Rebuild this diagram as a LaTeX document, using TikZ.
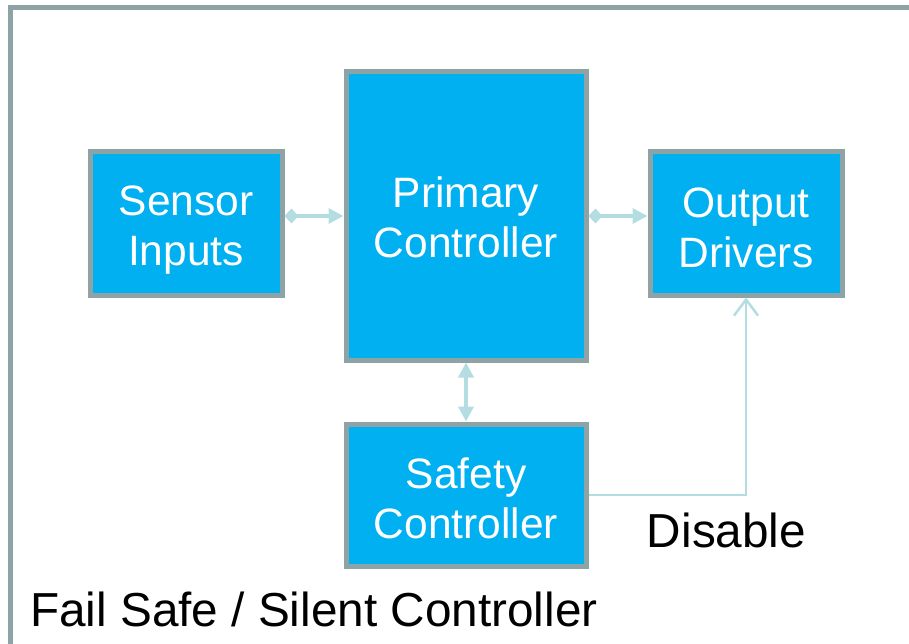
\documentclass[tikz,border=0pt]{standalone}
\usepackage{fontspec}
\setmainfont{Liberation Sans}
\usetikzlibrary{arrows.meta}
\definecolor{boxfill}{HTML}{00B0F0}
\definecolor{boxedge}{HTML}{8EA3A6}
\definecolor{linkcol}{HTML}{B4DDE2}
\tikzset{
  block/.style={draw=boxedge, fill=boxfill, line width=5pt, inner sep=0pt},
  btext/.style={text=white, align=center, inner sep=0pt,
    font=\fontsize{42.5}{50}\selectfont},
  link/.style={draw=linkcol, line width=3.5pt},
  tri/.tip={Triangle[length=15pt,width=15pt]},
  dia/.tip={Diamond[length=14pt,width=15pt]},
  barb/.tip={Straight Barb[length=16pt,width=24pt,line width=2.5pt]},
  lbl/.style={font=\fontsize{47.7}{56}\selectfont, inner sep=0pt}
}
\begin{document}
\begin{tikzpicture}[x=1pt,y=-1pt]
\useasboundingbox (0,0) rectangle (909,644);
\clip (0,0) rectangle (909,644);
% outer frame, running past the right and lower edges
\draw[boxedge, line width=5pt] (10.5,700) -- (10.5,7.5) -- (960,7.5);

\node[block, minimum width=192pt, minimum height=143pt] (sensor) at (186,223.5) {};
\node[block, minimum width=240pt, minimum height=288pt] (prim) at (466,216) {};
\node[block, minimum width=192pt, minimum height=143pt] (out) at (746,223.5) {};
\node[block, minimum width=240pt, minimum height=142pt] (safe) at (466,495) {};

\node[btext] (sensorT) at ([yshift=-7pt]sensor.center) {Sensor\\Inputs};
\node[btext] (primT) at ([yshift=-1pt]prim.center) {Primary\\Controller};
\node[btext] (outT) at ([yshift=-4pt]out.center) {Output\\Drivers};
\node[btext] (safeT) at ([yshift=-3pt]safe.center) {Safety\\Controller};

\draw[link, {dia}-{tri}] (sensor.east |- prim.west) -- (prim.west);
\draw[link, {dia}-{tri}] (prim.east) -- (prim.east -| out.west);
\draw[link, {tri}-{tri}] (prim.south) -- (safe.north);
\draw[draw=linkcol, line width=2.5pt, -{barb}] (safe.east) -| (out.south);

\node[lbl, anchor=center] (dis) at (726.5,530) {Disable};
\node[lbl, anchor=west] (fs) at (30,609) {Fail Safe / Silent Controller};
\end{tikzpicture}
\end{document}
